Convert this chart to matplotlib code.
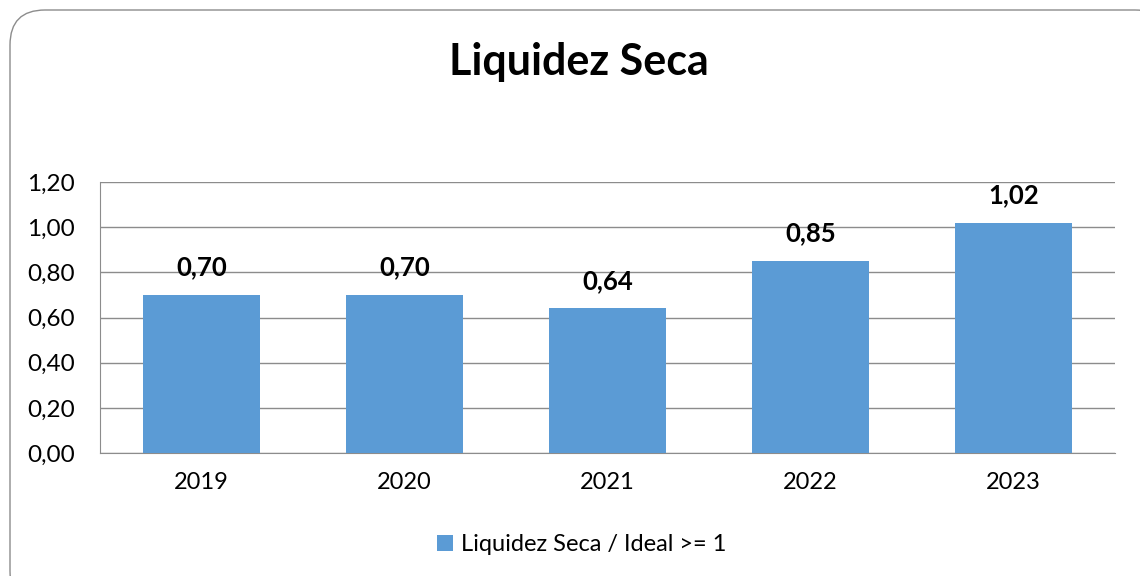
import matplotlib
matplotlib.use('Agg')
import matplotlib.pyplot as plt
from matplotlib.patches import FancyBboxPatch
import numpy as np

years = ['2019', '2020', '2021', '2022', '2023']
values = [0.70, 0.70, 0.64, 0.85, 1.02]
series_name = 'Liquidez Seca / Ideal >= 1'
title = 'Liquidez Seca'
yticks = [0.0, 0.2, 0.4, 0.6, 0.8, 1.0, 1.2]

plt.rcParams['font.family'] = ['Lato', 'DejaVu Sans']

fig = plt.figure(figsize=(11.4, 5.76), dpi=100)

# rounded frame around the chart
frame = FancyBboxPatch((0.10, -0.3), 11.6, 5.96,
                       boxstyle='round,pad=0,rounding_size=0.35',
                       transform=fig.dpi_scale_trans,
                       facecolor='white', edgecolor='#8c8c8c', linewidth=1.0,
                       zorder=0)
fig.patches.append(frame)

ax = fig.add_axes([0.0877, 0.2135, 0.8903, 0.4705])
ax.set_zorder(2)
ax.set_facecolor('none')

x = np.arange(len(years))
bars = ax.bar(x, values, width=0.58, color='#5B9BD5', zorder=3, label=series_name)

for xi, v in zip(x, values):
    ax.annotate(f'{v:.2f}'.replace('.', ','), (xi, v), xytext=(0, 20),
                textcoords='offset points', ha='center', va='center',
                fontsize=18.5, fontweight='bold', color='black')

ax.set_xlim(-0.5, len(years) - 0.5)
ax.set_ylim(0, 1.2)
ax.set_yticks(yticks)
ax.set_yticklabels([f'{t:.2f}'.replace('.', ',') for t in yticks], fontsize=17.5)
ax.set_xticks(x)
ax.set_xticklabels(years, fontsize=17)
ax.tick_params(axis='both', length=0)
ax.tick_params(axis='y', pad=18)
ax.tick_params(axis='x', pad=14)

ax.yaxis.grid(True, color='#8c8c8c', linewidth=1.0, zorder=0)
ax.set_axisbelow(True)
for side in ['top', 'right']:
    ax.spines[side].set_visible(False)
ax.spines['left'].set_color('#8c8c8c')
ax.spines['bottom'].set_color('#8c8c8c')

fig.text(0.508, 0.892, title, ha='center', va='center',
         fontsize=31, fontweight='bold')

fig.legend(handles=[bars], labels=[series_name], loc='center',
           bbox_to_anchor=(0.51, 0.054), frameon=False, fontsize=17,
           handlelength=0.7, handleheight=0.7, handletextpad=0.3)

fig.savefig('out.png', dpi=100)
